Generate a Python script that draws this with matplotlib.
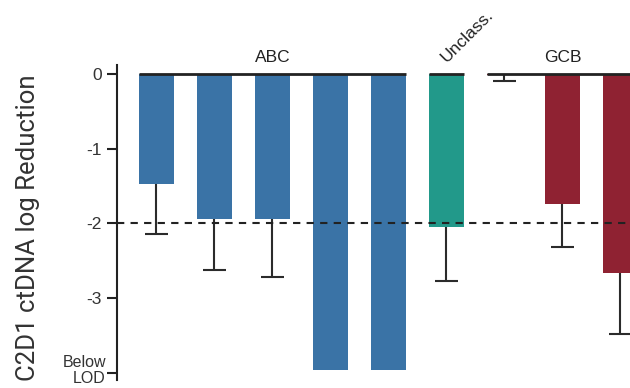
import matplotlib
matplotlib.use("Agg")
import matplotlib.pyplot as plt

plt.rcParams['font.family'] = ['Liberation Sans', 'DejaVu Sans']

groups = ["ABC", "ABC", "ABC", "ABC", "ABC", "Unclass.", "GCB", "GCB", "GCB"]
values = [-1.47, -1.94, -1.94, -3.97, -3.97, -2.05, -0.01, -1.74, -2.66]
err_low = [0.68, 0.68, 0.78, 0.0, 0.0, 0.72, 0.08, 0.58, 0.83]
group_colors = {"ABC": "#3A73A6", "Unclass.": "#22998A", "GCB": "#8F2232"}
ytick_vals = [0, -1, -2, -3, -4]
ytick_labels = ["0", "-1", "-2", "-3", "Below\nLOD"]
threshold = -2

fig = plt.figure(figsize=(6.3, 3.88), dpi=100)
ax = fig.add_axes([117/630, 1-380/388, 1-117/630, 315/388])

x = list(range(len(values)))
colors = [group_colors[g] for g in groups]
width = 0.6
cap_half = 0.19
ax.bar(x, values, width=width, color=colors, zorder=2)
for xi, v, e in zip(x, values, err_low):
    if e > 0:
        ax.vlines(xi, v - e, v, color='#2b2b2b', linewidth=1.5, zorder=3)
        ax.hlines(v - e, xi - cap_half, xi + cap_half, color='#2b2b2b', linewidth=1.5, zorder=3)

ax.axhline(threshold, color='#222222', linestyle=(0, (3.5, 3)), linewidth=1.5, zorder=4)

# group lines at zero and labels
ordered = []
for g in groups:
    if g not in ordered:
        ordered.append(g)
for g in ordered:
    idx = [i for i, gg in enumerate(groups) if gg == g]
    x0 = min(idx) - width/2
    x1 = max(idx) + width/2
    if g == "GCB":
        x1 = max(idx) + 1.0
    ax.plot([x0, x1], [0, 0], color='#222222', linewidth=2, zorder=5, clip_on=False,
            solid_capstyle='butt')
    cx = (min(idx) + max(idx)) / 2
    if g == "Unclass.":
        ax.text(cx + 0.36, 0.51, g, rotation=45, ha='center', va='center',
                fontsize=12.5, color='#222222', clip_on=False)
    else:
        ax.text(cx, 0.12, g, ha='center', va='bottom', fontsize=12.5,
                color='#222222', clip_on=False)

ax.set_xlim(-0.681, 8.164)
ax.set_ylim(-4.1, 0.12)
ax.set_yticks(ytick_vals)
ax.set_yticklabels([t if "\n" not in t else "" for t in ytick_labels],
                   fontsize=12.5, color='#333333')
for v, t in zip(ytick_vals, ytick_labels):
    if "\n" in t:
        ax.annotate(t, xy=(0, v), xycoords=('axes fraction', 'data'),
                    xytext=(-8, 1.5), textcoords='offset points',
                    ha='right', va='center', multialignment='right',
                    fontsize=11.5, linespacing=1.15, color='#333333',
                    annotation_clip=False)
ax.tick_params(axis='y', direction='out', length=7, width=1.5, color='#222222', pad=4)
ax.set_xticks([])
for s in ['top', 'right', 'bottom']:
    ax.spines[s].set_visible(False)
ax.spines['left'].set_linewidth(1.5)
ax.spines['left'].set_color('#222222')
ax.set_ylabel("C2D1 ctDNA log Reduction", fontsize=18.5, color='#333333',
              family=['Roboto', 'DejaVu Sans'])
ax.yaxis.set_label_coords((40 - 117) / (630 - 117), (380 - 227.5) / 315)

fig.savefig("out.png", dpi=100)
